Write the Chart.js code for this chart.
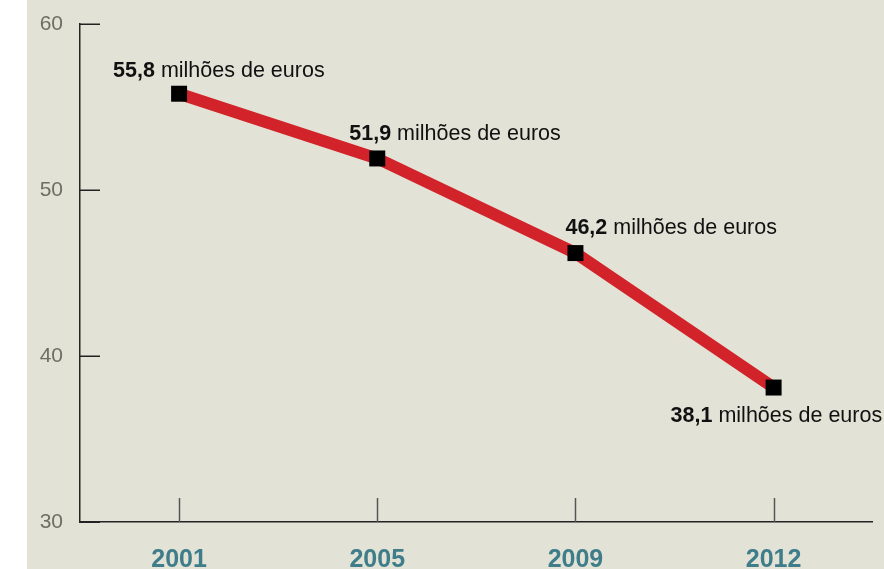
<!DOCTYPE html>
<html>
<head>
<meta charset="utf-8">
<script src="https://cdn.jsdelivr.net/npm/chart.js@4.4.0/dist/chart.umd.min.js"></script>
<style>
  html, body { margin: 0; padding: 0; background: #ffffff; }
  #wrap { width: 884px; height: 569px; }
</style>
</head>
<body>
<div id="wrap"><canvas id="c" width="884" height="569"></canvas></div>
<script>
const categories = ['2001', '2005', '2009', '2012'];
const values = [55.8, 51.9, 46.2, 38.1];
const valueLabels = ['55,8', '51,9', '46,2', '38,1'];
const unitText = ' milhões de euros';
const yTicks = [30, 40, 50, 60];

const labelOffsets = [
  { dx: -66, dy: -17 },
  { dx: -28, dy: -18 },
  { dx: -10, dy: -19 },
  { dx: -103, dy: 34 }
];

const FONT = '"Liberation Sans", Arial, Helvetica, sans-serif';

const decorPlugin = {
  id: 'decor',
  beforeDraw(chart) {
    const ctx = chart.ctx;
    ctx.save();
    ctx.fillStyle = '#ffffff';
    ctx.fillRect(0, 0, chart.width, chart.height);
    ctx.fillStyle = '#e2e3d6';
    ctx.fillRect(27, 0, chart.width - 27, chart.height);
    ctx.restore();
  },
  afterDraw(chart) {
    const ctx = chart.ctx;
    const x = chart.scales.x, y = chart.scales.y;
    const area = chart.chartArea;
    ctx.save();
    ctx.strokeStyle = '#222222';
    ctx.lineWidth = 1.5;
    yTicks.forEach(v => {
      const py = Math.round(y.getPixelForValue(v)) + 0.25;
      ctx.beginPath();
      ctx.moveTo(area.left, py);
      ctx.lineTo(area.left + 20, py);
      ctx.stroke();
    });
    ctx.strokeStyle = '#555555';
    categories.forEach((c, i) => {
      const px = Math.round(x.getPixelForValue(i)) + 0.5;
      ctx.beginPath();
      ctx.moveTo(px, area.bottom);
      ctx.lineTo(px, area.bottom - 24);
      ctx.stroke();
    });
    ctx.restore();
  },
  afterDatasetsDraw(chart) {
    const ctx = chart.ctx;
    const meta = chart.getDatasetMeta(0);
    ctx.save();
    ctx.textBaseline = 'alphabetic';
    ctx.textAlign = 'left';
    ctx.fillStyle = '#111111';
    meta.data.forEach((pt, i) => {
      const off = labelOffsets[i];
      const lx = pt.x + off.dx, ly = pt.y + off.dy;
      ctx.font = 'bold 21.5px ' + FONT;
      ctx.fillText(valueLabels[i], lx, ly);
      const w = ctx.measureText(valueLabels[i]).width;
      ctx.font = '21.5px ' + FONT;
      ctx.fillText(unitText, lx + w, ly);
    });
    ctx.restore();
  }
};

new Chart(document.getElementById('c'), {
  type: 'line',
  data: {
    labels: categories,
    datasets: [{
      data: values,
      borderColor: '#d2232a',
      borderWidth: 12,
      tension: 0,
      pointStyle: 'rect',
      pointRadius: 11.3,
      pointHoverRadius: 11.3,
      pointBorderWidth: 0,
      pointBackgroundColor: '#000000',
      clip: false
    }]
  },
  plugins: [decorPlugin],
  options: {
    responsive: false,
    animation: false,
    events: [],
    layout: { padding: { left: 0, right: 11, top: 24, bottom: 0 } },
    plugins: { legend: { display: false }, tooltip: { enabled: false } },
    scales: {
      x: {
        type: 'category',
        offset: true,
        grid: { display: false },
        border: { display: true, color: '#222222', width: 1.5 },
        ticks: {
          font: { family: FONT, size: 25, weight: 'bold' },
          color: '#3e7d89',
          padding: 15,
          maxRotation: 0
        },
        afterFit(s) { s.height = 47; }
      },
      y: {
        min: 30,
        max: 60,
        afterBuildTicks(s) { s.ticks = yTicks.map(v => ({ value: v })); },
        grid: { display: false },
        border: { display: true, color: '#222222', width: 1.5 },
        ticks: {
          font: { family: FONT, size: 21 },
          color: '#6e6e64',
          padding: 9
        },
        afterFit(s) { s.width = 80; }
      }
    }
  }
});
</script>
</body>
</html>
